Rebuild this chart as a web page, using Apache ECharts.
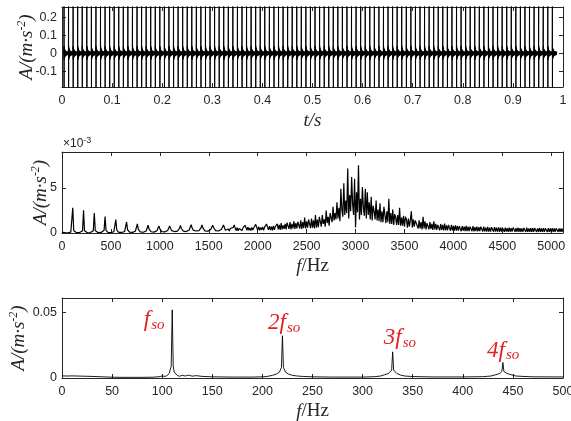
<!DOCTYPE html>
<html>
<head>
<meta charset="utf-8">
<script src="https://cdn.jsdelivr.net/npm/echarts@6/dist/echarts.min.js"></script>
<style>
html, body { margin: 0; padding: 0; background: #fff; }
#c { width: 571px; height: 421px; }
</style>
</head>
<body>
<div id="c"></div>
<script>
// Impact instants of the acceleration record (s)
const impulseTimes = [
  0.0040, 0.0131, 0.0222, 0.0313, 0.0404, 0.0496, 0.0587, 0.0678, 0.0769, 0.0860,
  0.0951, 0.1042, 0.1133, 0.1224, 0.1315, 0.1407, 0.1498, 0.1589, 0.1680, 0.1771,
  0.1862, 0.1953, 0.2044, 0.2135, 0.2226, 0.2318, 0.2409, 0.2500, 0.2591, 0.2682,
  0.2773, 0.2864, 0.2955, 0.3046, 0.3137, 0.3229, 0.3320, 0.3411, 0.3502, 0.3593,
  0.3684, 0.3775, 0.3866, 0.3957, 0.4048, 0.4140, 0.4231, 0.4322, 0.4413, 0.4504,
  0.4595, 0.4686, 0.4777, 0.4868, 0.4959, 0.5051, 0.5142, 0.5233, 0.5324, 0.5415,
  0.5506, 0.5597, 0.5688, 0.5779, 0.5870, 0.5962, 0.6053, 0.6144, 0.6235, 0.6326,
  0.6417, 0.6508, 0.6599, 0.6690, 0.6781, 0.6873, 0.6964, 0.7055, 0.7146, 0.7237,
  0.7328, 0.7419, 0.7510, 0.7601, 0.7692, 0.7784, 0.7875, 0.7966, 0.8057, 0.8148,
  0.8239, 0.8330, 0.8421, 0.8512, 0.8603, 0.8695, 0.8786, 0.8877, 0.8968, 0.9059,
  0.9150, 0.9241, 0.9332, 0.9423, 0.9514, 0.9606, 0.9697, 0.9788
];
// One impact response: delay after the impact (s) and acceleration (m/s^2)
const pulseOffsets = [0, 0.00005, 0.0001, 0.0002, 0.0004, 0.0006, 0.0009, 0.0012, 0.0016, 0.0020,
  0.0025, 0.0030, 0.0036, 0.0042, 0.0049, 0.0056, 0.0064, 0.0072, 0.0080, 0.0088];
const pulseValues = [0, 0.42, -0.38, 0.04, -0.035, 0.03, -0.027, 0.024, -0.021, 0.019,
  -0.017, 0.015, -0.014, 0.013, -0.012, 0.011, -0.01, 0.01, -0.009, 0.009];

// Spectrum in 10 Hz bins from 0 to 5120 Hz (units of 1e-3 m/s^2), one row per 110 Hz
const specStep = 10;
const specValues = [
  0.06,0.05,0.04,0.04,0.03,0.04,0.03,0.04,0.05,0.1,0.25,
  2.78,0.25,0.1,0.05,0.04,0.03,0.04,0.05,0.06,0.1,0.25,
  2.52,0.26,0.1,0.05,0.03,0.04,0.03,0.05,0.06,0.11,0.26,
  2.22,0.27,0.11,0.06,0.04,0.05,0.04,0.06,0.07,0.12,0.3,
  1.81,0.3,0.12,0.07,0.05,0.06,0.05,0.07,0.08,0.14,0.33,
  1.48,0.33,0.14,0.08,0.06,0.07,0.06,0.08,0.1,0.17,0.36,
  1.22,0.36,0.17,0.1,0.07,0.08,0.07,0.09,0.12,0.2,0.4,
  1.0,0.4,0.2,0.12,0.09,0.1,0.08,0.1,0.14,0.22,0.42,
  0.86,0.42,0.22,0.14,0.1,0.12,0.1,0.12,0.16,0.25,0.45,
  0.78,0.45,0.25,0.16,0.12,0.14,0.12,0.14,0.18,0.27,0.48,
  0.78,0.5,0.27,0.18,0.14,0.16,0.14,0.16,0.2,0.3,0.5,
  0.85,0.5,0.3,0.2,0.16,0.2,0.16,0.2,0.24,0.34,0.55,
  0.93,0.55,0.32,0.22,0.18,0.22,0.18,0.22,0.26,0.36,0.56,
  0.9,0.56,0.34,0.24,0.2,0.26,0.2,0.24,0.3,0.4,0.58,
  0.85,0.58,0.36,0.26,0.22,0.3,0.22,0.26,0.32,0.42,0.6,
  0.88,0.6,0.3,0.5,0.25,0.45,0.22,0.5,0.3,0.55,0.62,
  0.9,0.55,0.28,0.6,0.25,0.5,0.3,0.55,0.28,0.6,0.65,
  0.85,0.6,0.3,0.65,0.3,0.55,0.28,0.62,0.32,0.58,0.7,
  0.95,0.62,0.32,0.7,0.3,0.6,0.35,0.68,0.3,0.65,0.72,
  1.0,0.65,0.35,0.75,0.32,0.7,0.3,0.8,0.35,0.72,0.8,
  1.0,0.4,0.9,0.35,1.1,0.4,0.85,0.45,1.0,0.4,1.15,
  0.95,0.45,1.2,0.4,1.0,0.5,1.3,0.45,1.1,0.5,1.25,
  1.1,0.5,1.4,0.45,1.2,0.55,1.7,0.5,1.3,0.6,1.5,
  1.3,0.55,1.6,0.6,1.4,0.5,2.0,0.6,1.5,0.65,1.8,
  1.6,0.7,2.0,1.0,1.5,0.7,2.5,1.1,1.8,0.8,2.2,
  2.0,1.2,2.9,1.4,2.2,1.5,3.4,1.6,2.8,1.3,4.9,
  2.6,1.8,5.5,2.0,3.6,2.2,7.15,1.6,4.2,2.4,6.2,
  3.2,2.0,6.0,0.6,4.5,2.3,7.5,1.5,3.8,2.0,5.1,
  2.8,1.9,4.9,1.6,4.5,2.0,3.4,1.5,4.0,1.4,3.0,
  2.4,1.5,3.6,1.4,2.6,1.3,3.3,1.2,2.4,1.2,2.9,
  2.0,1.1,2.4,1.2,3.8,1.0,2.2,1.0,2.6,0.9,2.1,
  1.7,0.9,2.0,0.9,2.8,0.8,1.7,0.8,1.9,0.7,1.8,
  1.5,0.6,1.6,0.7,1.4,2.4,0.6,1.5,0.7,1.4,1.3,
  1.2,0.5,1.4,0.5,1.2,0.4,1.8,0.5,1.3,0.4,1.1,
  1.1,0.4,1.2,0.45,1.0,0.35,1.3,0.4,1.0,0.35,0.9,
  0.95,0.3,1.0,0.35,0.9,0.3,1.05,0.3,0.85,0.3,0.9,
  0.85,0.25,0.9,0.3,0.8,0.25,0.85,0.25,0.8,0.25,0.75,
  0.8,0.2,0.75,0.25,0.7,0.2,0.8,0.2,0.7,0.2,0.7,
  0.7,0.2,0.75,0.18,0.65,0.2,0.7,0.18,0.65,0.2,0.7,
  0.65,0.16,0.7,0.18,0.6,0.15,0.68,0.16,0.6,0.15,0.65,
  0.6,0.15,0.65,0.14,0.6,0.15,0.62,0.14,0.58,0.15,0.6,
  0.62,0.14,0.58,0.15,0.55,0.13,0.6,0.14,0.55,0.15,0.6,
  0.58,0.13,0.55,0.14,0.6,0.12,0.55,0.14,0.52,0.13,0.56,
  0.55,0.12,0.58,0.13,0.52,0.12,0.55,0.12,0.53,0.13,0.55,
  0.54,0.12,0.52,0.13,0.56,0.12,0.5,0.13,0.54,0.12,0.52,
  0.52,0.12,0.55,0.12,0.5,0.13,0.53,0.12,0.5,0.12,0.52,
  0.5,0.12,0.52,0.12,0.5,0.12,0.48
];

// Low-frequency detail of the spectrum: frequency (Hz) and amplitude (m/s^2)
const lowFreqs = [0,5,10,15,20,30,40,50,60,70,80,90,96,100,103,105,107,108,109,110,111,112,113,115,117,120,123,126,130,134,140,150,170,190,
  200,205,210,214,217,219,220,221,223,226,230,235,240,250,270,300,
  312,318,322,326,329,330,331,334,338,342,350,370,400,
  420,428,433,437,439,440,441,444,448,453,460,470,500];
const lowAmps = [0.0016,0.0015,0.0016,0.0015,0.0014,0.0012,0.0009,0.0006,0.0005,0.0005,0.0005,0.0006,0.0009,0.0015,0.0012,0.002,0.0035,0.005,0.009,0.0518,0.009,0.0045,0.003,0.002,0.0013,0.002,0.0015,0.0022,0.0014,0.0018,0.0012,0.0009,0.0007,0.0007,
  0.0009,0.0012,0.002,0.003,0.0045,0.008,0.0321,0.008,0.0045,0.003,0.002,0.0015,0.0012,0.0009,0.0007,0.0007,
  0.001,0.0015,0.0025,0.0035,0.006,0.0199,0.006,0.0035,0.0022,0.0015,0.0011,0.0008,0.0008,
  0.001,0.0015,0.0025,0.0035,0.005,0.0118,0.005,0.0035,0.0025,0.0015,0.0012,0.0009,0.0008];

// Shaft-order annotations
const orderPrefixes = ['f', '2f', '3f', '4f'];
const orderSub = 'so';
const orderFreqs = [110, 220, 330, 440];

// Tick positions
const timeTicks = [0, 0.1, 0.2, 0.3, 0.4, 0.5, 0.6, 0.7, 0.8, 0.9, 1];
const accTicks = [-0.1, 0, 0.1, 0.2];
const freqTicks = [0, 500, 1000, 1500, 2000, 2500, 3000, 3500, 4000, 4500, 5000];
const specTicks = [0, 5];
const lowFreqTicks = [0, 50, 100, 150, 200, 250, 300, 350, 400, 450, 500];
const lowAmpTicks = [0, 0.05];

// ---- series data built from the arrays above ----
const timeData = [];
impulseTimes.forEach(t => {
  pulseOffsets.forEach((o, i) => timeData.push([t + o, pulseValues[i]]));
});
const specData = specValues.map((v, i) => [i * specStep, v]);
const lowData = lowFreqs.map((f, i) => [f, lowAmps[i]]);

const AX = '#262626';
const RED = '#e02020';
const SANS = 'Liberation Sans, Arial, sans-serif';
const SERIF = 'Liberation Serif, Times New Roman, serif';

function fmt(v) { return String(+v.toFixed(4)); }

function bottomX(g, min, max, ticks, name, rich) {
  return {
    gridIndex: g, type: 'value', position: 'bottom', min, max,
    axisLine: { show: true, onZero: false, lineStyle: { color: AX, width: 1 } },
    axisTick: { show: true, inside: true, length: 4, customValues: ticks, lineStyle: { color: AX } },
    axisLabel: { customValues: ticks, color: AX, fontFamily: SANS, fontSize: 12.5, margin: 7, formatter: fmt },
    splitLine: { show: false },
    name, nameLocation: 'middle', nameGap: 24, nameMoveOverlap: false,
    nameTextStyle: Object.assign({ color: AX, fontFamily: SERIF, fontSize: 19 }, rich ? { rich } : { fontStyle: 'italic' })
  };
}
function topX(g, min, max, ticks) {
  return {
    gridIndex: g, type: 'value', position: 'top', min, max,
    axisLine: { show: true, onZero: false, lineStyle: { color: AX, width: 1 } },
    axisTick: { show: true, inside: true, length: 4, customValues: ticks, lineStyle: { color: AX } },
    axisLabel: { show: false }, splitLine: { show: false }
  };
}
const yName = '{a|A/(m·s}{s|-2}{a|)}';
const yRich = {
  a: { fontFamily: SERIF, fontStyle: 'italic', fontSize: 19, color: AX, lineHeight: 22 },
  s: { fontFamily: SERIF, fontStyle: 'italic', fontSize: 12, color: AX, verticalAlign: 'top', lineHeight: 22 }
};
function leftY(g, min, max, ticks, gap) {
  return {
    gridIndex: g, type: 'value', position: 'left', min, max,
    axisLine: { show: true, onZero: false, lineStyle: { color: AX, width: 1 } },
    axisTick: { show: true, inside: true, length: 4, customValues: ticks, lineStyle: { color: AX } },
    axisLabel: { customValues: ticks, color: AX, fontFamily: SANS, fontSize: 12.5, margin: 5, formatter: fmt },
    splitLine: { show: false },
    name: yName, nameLocation: 'middle', nameGap: gap, nameRotate: 90, nameMoveOverlap: false,
    nameTextStyle: { rich: yRich }
  };
}
function rightY(g, min, max, ticks) {
  return {
    gridIndex: g, type: 'value', position: 'right', min, max,
    axisLine: { show: true, onZero: false, lineStyle: { color: AX, width: 1 } },
    axisTick: { show: true, inside: true, length: 4, customValues: ticks, lineStyle: { color: AX } },
    axisLabel: { show: false }, splitLine: { show: false }
  };
}

const fRich = {
  i: { fontFamily: SERIF, fontStyle: 'italic', fontSize: 19, color: AX },
  n: { fontFamily: SERIF, fontSize: 19, color: AX }
};

const gridBase = { left: 62, right: 8, containLabel: false, outerBoundsMode: 'none' };

const chart = echarts.init(document.getElementById('c'), null, { renderer: 'canvas' });
chart.setOption({
  animation: false,
  backgroundColor: '#fff',
  grid: [
    Object.assign({ top: 7, height: 80 }, gridBase),
    Object.assign({ top: 152, height: 81 }, gridBase),
    Object.assign({ top: 298, height: 80 }, gridBase)
  ],
  xAxis: [
    bottomX(0, 0, 1, timeTicks, 't/s'),
    bottomX(1, 0, 5120, freqTicks, '{i|f}{n|/Hz}', fRich),
    bottomX(2, 0, 500, lowFreqTicks, '{i|f}{n|/Hz}', fRich),
    topX(0, 0, 1, timeTicks),
    topX(1, 0, 5120, freqTicks),
    topX(2, 0, 500, lowFreqTicks)
  ],
  yAxis: [
    leftY(0, -0.186, 0.256, accTicks, 24),
    leftY(1, 0, 8.97, specTicks, 10),
    leftY(2, 0, 0.0608, lowAmpTicks, 32),
    rightY(0, -0.186, 0.256, accTicks),
    rightY(1, 0, 8.97, specTicks),
    rightY(2, 0, 0.0608, lowAmpTicks)
  ],
  series: [
    { type: 'line', xAxisIndex: 0, yAxisIndex: 0, data: timeData, showSymbol: false, symbol: 'none',
      sampling: null, lineStyle: { color: '#000', width: 1 }, clip: true },
    { type: 'line', xAxisIndex: 1, yAxisIndex: 1, data: specData, showSymbol: false, symbol: 'none',
      lineStyle: { color: '#000', width: 1.2 }, clip: true },
    { type: 'line', xAxisIndex: 2, yAxisIndex: 2, data: lowData, showSymbol: false, symbol: 'none',
      lineStyle: { color: '#000', width: 0.9 }, clip: true }
  ]
});

// Exponent note of the spectrum axis, plus order labels next to the matching peaks
const graphics = [
  { id: 'expo', type: 'text', x: 63, y: 136,
    style: { text: '{a|×10}{b|-3}', rich: {
      a: { fontFamily: SANS, fontSize: 12, fill: AX, lineHeight: 16 },
      b: { fontFamily: SANS, fontSize: 9, fill: AX, verticalAlign: 'top', lineHeight: 16 } } } }
];
const offsets = [[-22, 10], [3.5, -13], [9, -14], [2, -12]];
orderFreqs.forEach((f, k) => {
  const amp = lowAmps[lowFreqs.indexOf(f)];
  const p = chart.convertToPixel({ gridIndex: 2 }, [f, amp]);
  const x = p[0] + offsets[k][0];
  const y = p[1] + offsets[k][1];
  graphics.push({ id: 'ord' + k, type: 'text', x: x, y: y,
    style: { text: orderPrefixes[k], fill: RED, font: 'italic 23px ' + SERIF, align: 'right', verticalAlign: 'middle',
      textAlign: 'right', textVerticalAlign: 'middle' } });
  graphics.push({ id: 'sub' + k, type: 'text', x: x + 1, y: y + 5,
    style: { text: orderSub, fill: RED, font: 'italic 15px ' + SERIF, align: 'left', verticalAlign: 'middle',
      textAlign: 'left', textVerticalAlign: 'middle' } });
});
chart.setOption({ graphic: graphics });
</script>
</body>
</html>
